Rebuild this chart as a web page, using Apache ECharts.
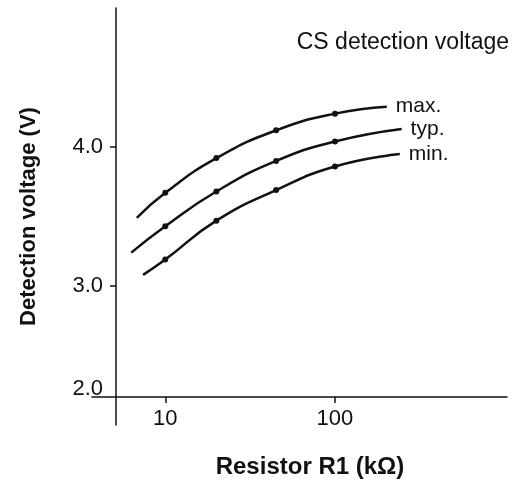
<!DOCTYPE html>
<html>
<head>
<meta charset="utf-8">
<script src="https://cdn.jsdelivr.net/npm/echarts@6/dist/echarts.min.js"></script>
<style>html,body{margin:0;padding:0;background:#fff}#c{width:516px;height:479px}</style>
</head>
<body>
<div id="c"></div>
<script>
// Resistor R1 (kΩ) for each curve
const xMax = [6.8, 10, 20, 45, 100, 202];
const xTyp = [6.3, 10, 20, 45, 100, 247];
const xMin = [7.4, 10, 20, 45, 100, 241];
// Detection voltage (V)
const vMax = [3.49, 3.67, 3.92, 4.12, 4.24, 4.29];
const vTyp = [3.24, 3.43, 3.68, 3.90, 4.04, 4.13];
const vMin = [3.08, 3.19, 3.47, 3.69, 3.86, 3.95];
const seriesNames = ['max.', 'typ.', 'min.'];
const xTickValues = [10, 100];
const yTickValues = [3, 4];
const yLabelValues = [2, 3, 4];
const titleText = 'CS detection voltage';
const xName = 'Resistor R1 (kΩ)';
const yName = 'Detection voltage (V)';

const FONT = "'Liberation Sans', Arial, sans-serif";
const INK = '#111';

function build(xs, vs) {
  return xs.map((x, i) => {
    const item = { value: [x, vs[i]] };
    if (i === 0 || i === xs.length - 1) item.symbol = 'none';
    return item;
  });
}

const chart = echarts.init(document.getElementById('c'), null, { renderer: 'canvas' });
const mk = (name, data) => ({
  name: name,
  type: 'line',
  smooth: true,
  data: data,
  symbol: 'circle',
  symbolSize: 6,
  lineStyle: { color: INK, width: 2.5 },
  itemStyle: { color: INK },
  endLabel: { show: true, formatter: '{a}', fontFamily: FONT, fontSize: 21, color: INK, distance: 9 },
  emphasis: { disabled: true }
});

chart.setOption({
  animation: false,
  backgroundColor: '#fff',
  title: {
    text: titleText, right: 2, top: 26,
    textStyle: { fontFamily: FONT, fontSize: 23, fontWeight: 'normal', color: INK }
  },
  grid: { left: 92, right: 9, top: 8, bottom: 54, containLabel: false, outerBoundsMode: 'none' },
  xAxis: {
    type: 'log', min: 3.7, max: 1032, offset: -28,
    name: xName, nameLocation: 'middle', nameGap: 58,
    nameTextStyle: { fontFamily: FONT, fontSize: 24, fontWeight: 'bold', color: INK, padding: [0, 0, 0, 21] },
    axisLine: { lineStyle: { color: INK, width: 1.5 } },
    axisTick: { show: true, length: 6, customValues: xTickValues, lineStyle: { color: INK, width: 1.5 } },
    axisLabel: { customValues: xTickValues, fontFamily: FONT, fontSize: 22, color: INK, margin: 11 },
    splitLine: { show: false }, minorTick: { show: false }
  },
  yAxis: {
    type: 'value', min: 2, max: 5, offset: -24,
    name: yName, nameLocation: 'middle', nameGap: 76,
    nameTextStyle: { fontFamily: FONT, fontSize: 22, fontWeight: 'bold', color: INK },
    axisLine: { show: true, lineStyle: { color: INK, width: 1.5 } },
    axisTick: { show: true, length: 6, customValues: yTickValues, lineStyle: { color: INK, width: 1.5 } },
    axisLabel: {
      customValues: yLabelValues, fontFamily: FONT, fontSize: 22, color: INK, margin: 13, lineHeight: 18,
      formatter: v => v === 2 ? '2.0\n\n\n\n' : v.toFixed(1)
    },
    splitLine: { show: false }
  },
  series: [
    mk(seriesNames[0], build(xMax, vMax)),
    mk(seriesNames[1], build(xTyp, vTyp)),
    mk(seriesNames[2], build(xMin, vMin))
  ]
});
</script>
</body>
</html>
